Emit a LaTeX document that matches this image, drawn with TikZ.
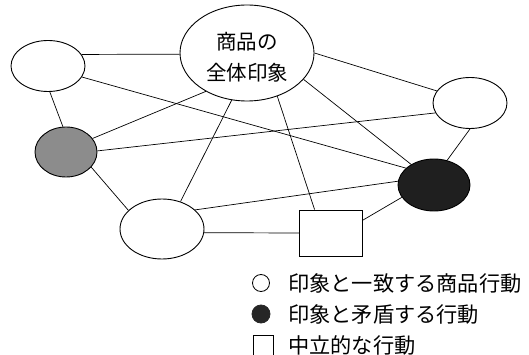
\documentclass[tikz,border=0pt]{standalone}
\usepackage{fontspec}
\newfontfamily\jp{Noto Sans CJK JP}
\usetikzlibrary{shapes.geometric}
\begin{document}
\begin{tikzpicture}[x=1pt,y=-1pt,
  ell/.style={draw=black,line width=0.9pt,ellipse,inner sep=0pt},
  edge/.style={draw=black,line width=0.7pt},
  legtext/.style={anchor=west,inner sep=0pt,font=\jp\fontsize{21.2}{22}\selectfont}]
\useasboundingbox (0,0) rectangle (529,355);
\fill[white] (0,0) rectangle (529,355);
\node[ell,minimum width=134pt,minimum height=96pt,
  label={[yshift=-4pt,align=center,font=\jp\fontsize{20.5}{31}\selectfont]center:商品の\\全体印象}] (C) at (247,53) {};
\node[ell,minimum width=74pt,minimum height=51pt] (TL) at (48,66) {};
\node[ell,minimum width=74pt,minimum height=51pt] (R) at (470,103) {};
\node[ell,minimum width=62pt,minimum height=50pt,fill=black!45] (G) at (66,152) {};
\node[ell,minimum width=72pt,minimum height=52pt,fill=black!88] (K) at (434,185) {};
\node[ell,minimum width=84pt,minimum height=60pt] (B) at (162,229) {};
\node[draw=black,line width=0.9pt,rectangle,minimum width=63pt,minimum height=46pt,inner sep=0pt] (S) at (331,233) {};
\draw[edge] (TL.19) -- (C.181);
\draw[edge] (TL.-18) -- (K.149);
\draw[edge] (TL.-86) -- (G.97);
\draw[edge] (C.223) -- (G.27);
\draw[edge] (C.-108) -- (B.56);
\draw[edge] (C.-55) -- (S.125);
\draw[edge] (C.-25) -- (K.138);
\draw[edge] (C.0) -- (R.160);
\draw[edge] (R.196) -- (G.2);
\draw[edge] (R.-90) -- (K.62);
\draw[edge] (G.-31) -- (B.151);
\draw[edge] (B.30) -- (K.174);
\draw[edge] (B.-5) -- (S.180);
\draw[edge] (S.22) -- (K.201);
% legend
\node[draw=black,line width=0.8pt,circle,minimum size=17pt,inner sep=0pt] (L1) at (261,283) {};
\node[draw=black!85,line width=0.8pt,circle,minimum size=18pt,inner sep=0pt,fill=black!85] (L2) at (261,314) {};
\node[draw=black,line width=0.8pt,rectangle,minimum width=20pt,minimum height=22pt,inner sep=0pt] (L3) at (263,346) {};
\node[legtext] (T1) at (288,283) {印象と一致する商品行動};
\node[legtext] (T2) at (288,314) {印象と矛盾する行動};
\node[legtext] (T3) at (288,345) {中立的な行動};
\end{tikzpicture}
\end{document}
